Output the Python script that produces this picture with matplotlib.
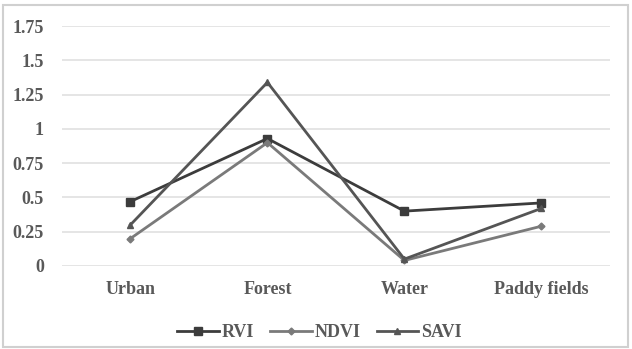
import matplotlib

matplotlib.use("Agg")

import matplotlib.pyplot as plt
from matplotlib.patches import Rectangle

CATEGORIES = ["Urban", "Forest", "Water", "Paddy fields"]
RVI = [0.47, 0.93, 0.40, 0.46]
NDVI = [0.20, 0.90, 0.04, 0.29]
SAVI = [0.30, 1.34, 0.05, 0.42]
Y_TICKS = [0, 0.25, 0.5, 0.75, 1, 1.25, 1.5, 1.75]
Y_LABELS = ["0", "0.25", "0.5", "0.75", "1", "1.25", "1.5", "1.75"]

plt.rcParams["font.family"] = ["Liberation Serif", "DejaVu Serif"]

fig = plt.figure(figsize=(6.32, 3.49), dpi=100)
ax = fig.add_axes([0.098, 0.238, 0.867, 0.687])

fig.patches.append(
    Rectangle((0.004, 0.006), 0.99, 0.98, transform=fig.transFigure,
              fill=False, edgecolor="#d0d0d0", linewidth=1.5)
)

x = range(len(CATEGORIES))
ax.plot(x, RVI, color="#3c3c3c", linewidth=2, marker="s", markersize=6, label="RVI", zorder=3)
ax.plot(x, NDVI, color="#7a7a7a", linewidth=2, marker="D", markersize=3.5, label="NDVI", zorder=3)
ax.plot(x, SAVI, color="#555555", linewidth=2, marker="^", markersize=5, label="SAVI", zorder=3)

ax.set_xlim(-0.5, len(CATEGORIES) - 0.5)
ax.set_ylim(0, 1.75)
ax.set_yticks(Y_TICKS)
ax.set_yticklabels(Y_LABELS, fontsize=13, color="#595959", fontweight="bold")
ax.set_xticks(list(x))
ax.set_xticklabels(CATEGORIES, fontsize=13, color="#595959", fontweight="bold")
ax.tick_params(length=0, axis="y", pad=13)
ax.tick_params(length=0, axis="x", pad=11)
ax.grid(axis="y", color="#e0e0e0", linewidth=1.2)
ax.set_axisbelow(True)
for spine in ax.spines.values():
    spine.set_visible(False)

legend = ax.legend(loc="upper center", bbox_to_anchor=(0.47, -0.175), ncol=3, frameon=False,
                   prop={"size": 13, "weight": "bold"}, handlelength=2.3, columnspacing=0.9,
                   handletextpad=0.15)
for text in legend.get_texts():
    text.set_color("#595959")

fig.savefig("out.png", dpi=100)
